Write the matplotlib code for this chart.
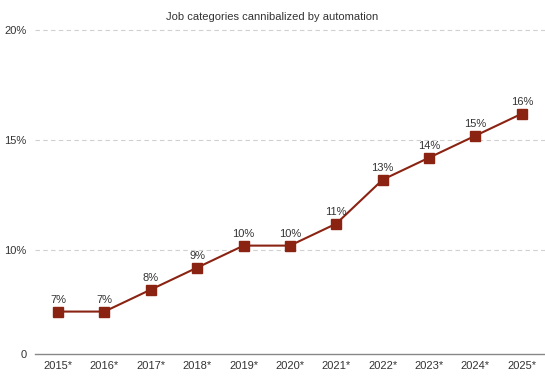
import matplotlib
matplotlib.use("Agg")
import matplotlib.pyplot as plt

years = ["2015*", "2016*", "2017*", "2018*", "2019*", "2020*",
         "2021*", "2022*", "2023*", "2024*", "2025*"]
share = [7.2, 7.2, 8.2, 9.2, 10.2, 10.2, 11.2, 13.2, 14.2, 15.2, 16.2]
point_labels = ["7%", "7%", "8%", "9%", "10%", "10%", "11%", "13%", "14%", "15%", "16%"]
y_floor = 5.27  # broken axis: the baseline is labelled "0"
y_ticks = [y_floor, 10, 15, 20]
y_tick_labels = ["0", "10%", "15%", "20%"]

plt.rcParams["font.family"] = ["Liberation Sans", "DejaVu Sans"]

line_color = "#8a2312"
text_color = "#333333"

fig = plt.figure(figsize=(5.45, 3.77), dpi=100)
ax = fig.add_axes([0.064, 0.061, 0.936, 0.859])

x = list(range(len(years)))
ax.plot(x, share, color=line_color, linewidth=1.5, marker="s",
        markersize=7, markerfacecolor=line_color, markeredgecolor=line_color,
        zorder=3)
for xi, yi, lab in zip(x, share, point_labels):
    ax.annotate(lab, (xi, yi), xytext=(0, 5), textcoords="offset points",
                ha="center", va="bottom", fontsize=8, color=text_color)

ax.set_xlim(-0.5, len(years) - 0.5)
ax.set_ylim(y_floor, 20)
ax.set_xticks(x)
ax.set_xticklabels(years)
ax.set_yticks(y_ticks)
ax.set_yticklabels(y_tick_labels)
ax.tick_params(axis="both", length=0, labelsize=8, labelcolor=text_color)
ax.tick_params(axis="x", pad=5)
ax.tick_params(axis="y", pad=6)

for t in y_ticks[1:]:
    ax.axhline(t, color="#d0d0d0", linewidth=0.8, linestyle=(0, (4, 3)),
               zorder=1, clip_on=False)

for side in ["top", "right", "left"]:
    ax.spines[side].set_visible(False)
ax.spines["bottom"].set_color("#888888")
ax.spines["bottom"].set_linewidth(1.0)

fig.text(0.5, 0.955, "Job categories cannibalized by automation",
         ha="center", va="center", fontsize=8, color=text_color)

fig.savefig("out.png", dpi=100)
